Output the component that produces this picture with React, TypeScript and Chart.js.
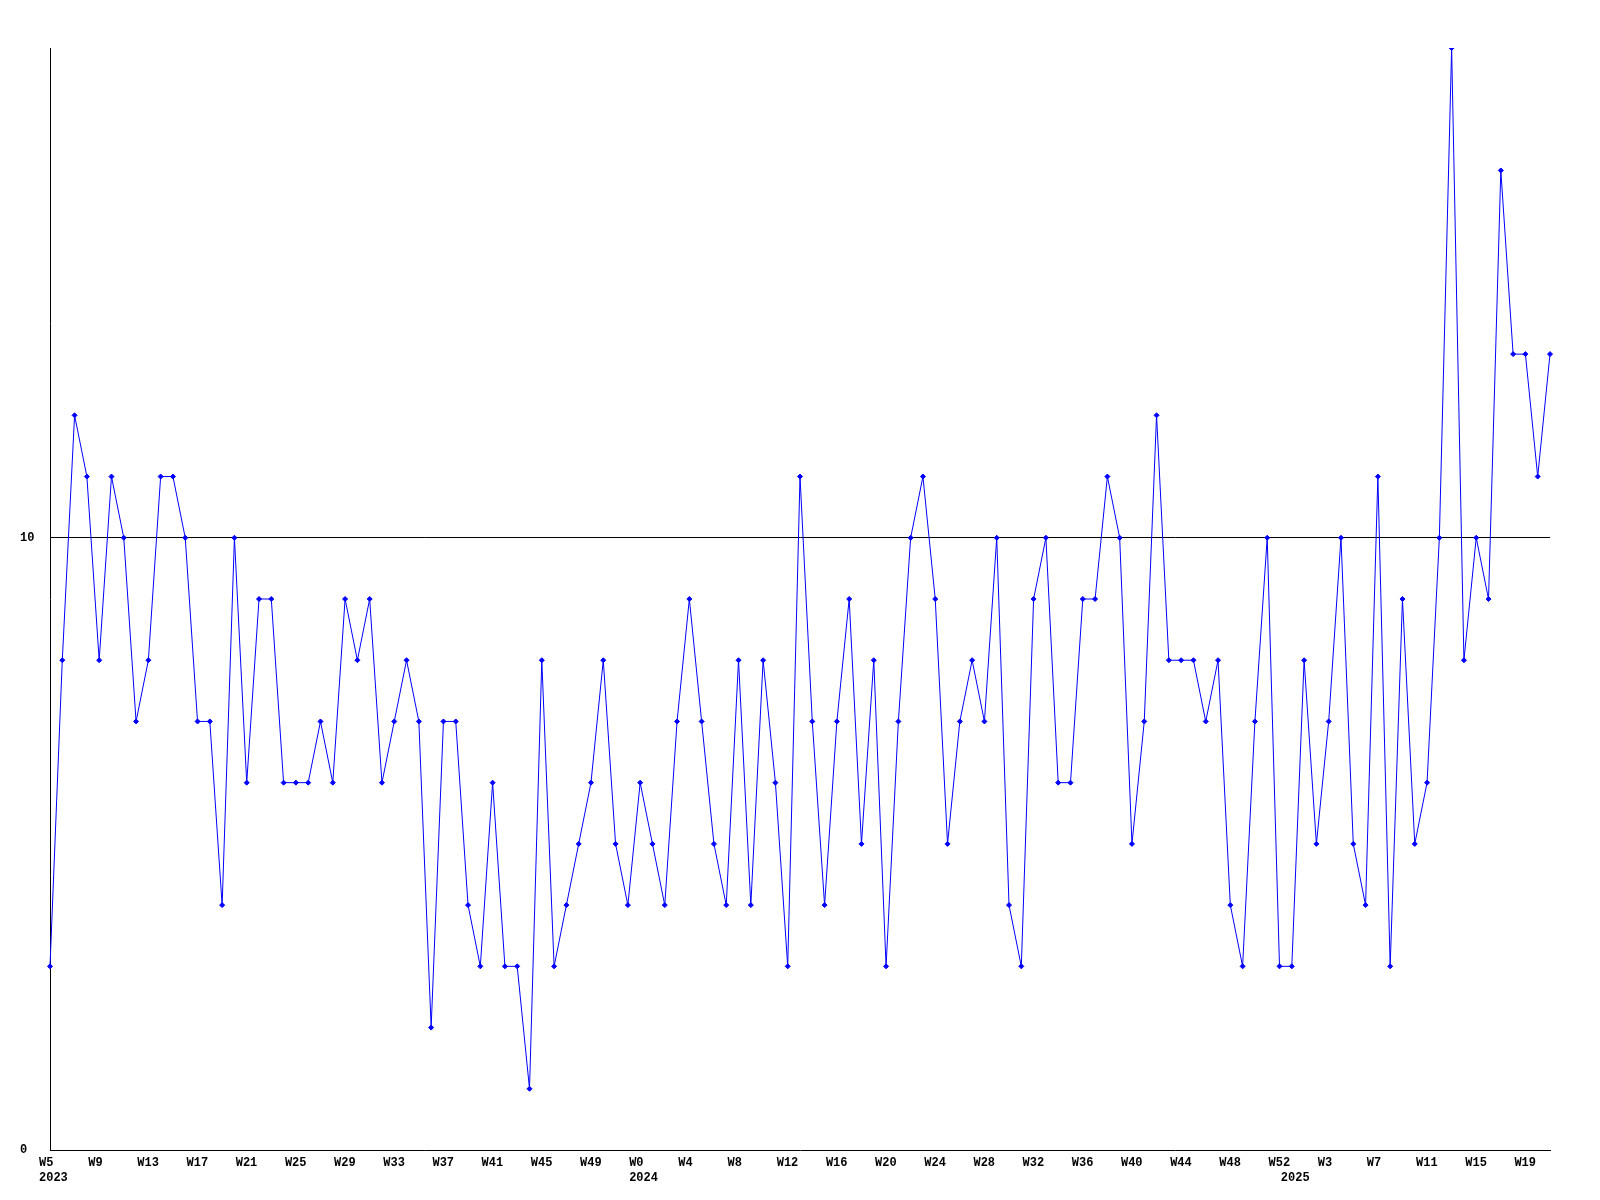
import React, { useEffect, useRef } from 'react';
import { Chart, registerables } from 'chart.js';

Chart.register(...registerables);

// Week numbers shown on the x axis, per year
const weeks2023 = [5, 6, 7, 8, 9, 10, 11, 12, 13, 14, 15, 16, 17, 18, 19, 20, 21, 22, 23, 24, 25, 26, 27, 28, 29, 30, 31, 32, 33, 34, 35, 36, 37, 38, 39, 40, 41, 42, 43, 44, 45, 46, 47, 48, 49, 50, 51, 52];
const weeks2024 = [0, 1, 2, 3, 4, 5, 6, 7, 8, 9, 10, 11, 12, 13, 14, 15, 16, 17, 18, 19, 20, 21, 22, 23, 24, 25, 26, 27, 28, 29, 30, 31, 32, 33, 34, 35, 36, 37, 38, 39, 40, 41, 42, 43, 44, 45, 46, 47, 48, 49, 50, 51, 52];
const weeks2025 = [0, 1, 2, 3, 4, 5, 6, 7, 8, 9, 10, 11, 12, 13, 14, 15, 16, 17, 18, 19, 20, 21];

// Series values, one per week
const values2023 = [3, 8, 12, 11, 8, 11, 10, 7, 8, 11, 11, 10, 7, 7, 4, 10, 6, 9, 9, 6, 6, 6, 7, 6, 9, 8, 9, 6, 7, 8, 7, 2, 7, 7, 4, 3, 6, 3, 3, 1, 8, 3, 4, 5, 6, 8, 5, 4];
const values2024 = [6, 5, 4, 7, 9, 7, 5, 4, 8, 4, 8, 6, 3, 11, 7, 4, 7, 9, 5, 8, 3, 7, 10, 11, 9, 5, 7, 8, 7, 10, 4, 3, 9, 10, 6, 6, 9, 9, 11, 10, 5, 7, 12, 8, 8, 8, 7, 8, 4, 3, 7, 10, 3];
const values2025 = [3, 8, 5, 7, 10, 5, 4, 11, 3, 9, 5, 6, 10, 18, 8, 10, 9, 16, 13, 13, 11, 13];

const yTickValues = [0, 10];
const yMin = 0;
const yMax = 18;

const categories = [
  ...weeks2023.map((w) => ({ year: 2023, week: w })),
  ...weeks2024.map((w) => ({ year: 2024, week: w })),
  ...weeks2025.map((w) => ({ year: 2025, week: w })),
];
const labels = categories.map((c) => `W${c.week}`);
const values = [...values2023, ...values2024, ...values2025];

const FONT = { family: "'Liberation Mono', 'DejaVu Sans Mono', monospace", size: 12, weight: 'bold' as const, lineHeight: 1.25 };

export default function App() {
  const ref = useRef<HTMLCanvasElement | null>(null);

  useEffect(() => {
    if (!ref.current) return;
    const chart = new Chart(ref.current, {
      type: 'line',
      data: {
        labels,
        datasets: [
          {
            data: values,
            borderColor: '#0000ff',
            borderWidth: 1,
            tension: 0,
            fill: false,
            pointStyle: 'rectRot',
            pointRadius: 2.5,
            pointBackgroundColor: '#0000ff',
            pointBorderColor: '#0000ff',
            pointBorderWidth: 1,
          },
        ],
      },
      options: {
        responsive: false,
        animation: false,
        devicePixelRatio: 1,
        layout: { padding: { left: 20, top: 48, right: 50, bottom: 0 } },
        plugins: { legend: { display: false }, tooltip: { enabled: false } },
        scales: {
          x: {
            type: 'category',
            offset: false,
            grid: { display: false, drawTicks: false },
            border: { display: true, color: '#000000', width: 1 },
            ticks: {
              autoSkip: false,
              maxRotation: 0,
              minRotation: 0,
              align: 'start',
              labelOffset: -11,
              padding: 5,
              color: '#000000',
              font: FONT,
              callback: (_v: any, i: number) => {
                const c = categories[i];
                const newYear = i === 0 || categories[i - 1].year !== c.year;
                const weekText = i % 4 === 0 ? `W${c.week}` : '';
                if (newYear) return [weekText, String(c.year)];
                return weekText;
              },
            },
            afterFit: (s: any) => {
              s.height = 50;
            },
          },
          y: {
            min: yMin,
            max: yMax,
            afterBuildTicks: (s: any) => {
              s.ticks = yTickValues.map((v) => ({ value: v }));
            },
            afterFit: (s: any) => {
              s.width = 30;
            },
            grid: {
              drawTicks: false,
              lineWidth: 1,
              color: (ctx: any) => (ctx.tick && ctx.tick.value === 10 ? '#000000' : 'rgba(0,0,0,0)'),
            },
            border: { display: true, color: '#000000', width: 1 },
            ticks: {
              crossAlign: 'far',
              padding: 0,
              color: '#000000',
              font: FONT,
              callback: (v: any) => String(v),
            },
          },
        },
      },
    } as any);
    return () => chart.destroy();
  }, []);

  return (
    <div style={{ position: 'fixed', left: 0, top: 0, width: 1600, height: 1200, background: '#ffffff' }}>
      <canvas ref={ref} width={1600} height={1200} style={{ display: 'block' }} />
    </div>
  );
}
